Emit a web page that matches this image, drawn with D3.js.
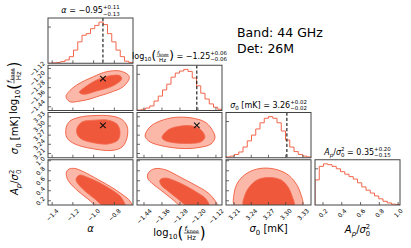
<!DOCTYPE html>
<html>
<head>
<meta charset="utf-8">
<script src="https://cdn.jsdelivr.net/npm/d3@7"></script>
<style>
  body { margin: 0; background: #fff; }
  svg { display: block; font-family: 'DejaVu Sans', sans-serif; }
</style>
</head>
<body>
<svg id="chart" width="411" height="248"></svg>
<script>
// parameter ranges and ticks (alpha, log10 fknee, sigma0, Ap/sigma0^2)
const ranges = [[-1.44, -0.62], [-1.471, -1.093], [3.196, 3.344], [0.115, 1.02]];
const alphaTicks = [-1.4, -1.2, -1.0, -0.8];
const fkneeTicks = [-1.44, -1.36, -1.28, -1.20, -1.12];
const sigmaTicks = [3.21, 3.24, 3.27, 3.30, 3.33];
const apTicks = [0.2, 0.4, 0.6, 0.8, 1.0];
const tickFormats = ['.1f', '.2f', '.2f', '.1f'];

const medians = [-0.95, -1.25, 3.26, 0.35];
const errPlus = [0.11, 0.06, 0.02, 0.20];
const errMinus = [0.13, 0.06, 0.02, 0.15];
const truths = [-0.91, -1.205, 3.302, null];

// 20-bin histograms, normalised to peak
const alphaHist = [0.0, 0.01, 0.02, 0.04, 0.08, 0.16, 0.32, 0.52, 0.68, 0.72, 0.84, 0.92, 1.0, 0.94, 0.72, 0.52, 0.32, 0.16, 0.05, 0.02];
const fkneeHist = [0.01, 0.03, 0.06, 0.11, 0.23, 0.35, 0.50, 0.64, 0.81, 0.91, 0.96, 1.0, 0.95, 0.79, 0.60, 0.42, 0.28, 0.16, 0.08, 0.03];
const sigmaHist = [0.02, 0.04, 0.08, 0.14, 0.26, 0.41, 0.55, 0.70, 0.85, 0.96, 1.0, 0.96, 0.85, 0.65, 0.43, 0.26, 0.15, 0.08, 0.04, 0.02];
const apHist = [0.61, 0.94, 1.0, 0.98, 0.94, 0.88, 0.81, 0.75, 0.69, 0.63, 0.54, 0.44, 0.36, 0.29, 0.22, 0.15, 0.09, 0.05, 0.02, 0.01];

// 2d contour outlines [x, y] in data units (outer ~95%, inner ~68%)
const alphaFkneeOuter = [[-1.266,-1.356],[-1.244,-1.319],[-1.163,-1.258],[-1.003,-1.189],[-0.874,-1.147],[-0.745,-1.141],[-0.665,-1.174],[-0.656,-1.202],[-0.714,-1.272],[-0.842,-1.321],[-0.970,-1.356],[-1.035,-1.375],[-1.131,-1.392],[-1.228,-1.398]];
const alphaFkneeInner = [[-1.138,-1.319],[-1.099,-1.286],[-0.970,-1.216],[-0.842,-1.180],[-0.745,-1.180],[-0.729,-1.208],[-0.810,-1.264],[-0.970,-1.308],[-1.099,-1.336]];
const alphaSigmaOuter = [[-1.266,3.293],[-1.228,3.316],[-1.131,3.329],[-0.987,3.334],[-0.842,3.333],[-0.736,3.323],[-0.678,3.300],[-0.678,3.261],[-0.726,3.231],[-0.823,3.220],[-1.016,3.226],[-1.180,3.241],[-1.257,3.261]];
const alphaSigmaInner = [[-1.160,3.293],[-1.112,3.313],[-0.987,3.319],[-0.861,3.319],[-0.774,3.306],[-0.745,3.280],[-0.765,3.254],[-0.861,3.241],[-1.016,3.246],[-1.122,3.258],[-1.160,3.274]];
const fkneeSigmaOuter = [[-1.435,3.267],[-1.413,3.297],[-1.369,3.316],[-1.302,3.328],[-1.226,3.326],[-1.169,3.313],[-1.142,3.293],[-1.124,3.263],[-1.142,3.241],[-1.191,3.230],[-1.258,3.226],[-1.346,3.233],[-1.413,3.248]];
const fkneeSigmaInner = [[-1.360,3.263],[-1.333,3.287],[-1.289,3.298],[-1.226,3.300],[-1.186,3.287],[-1.169,3.263],[-1.186,3.248],[-1.235,3.243],[-1.315,3.246],[-1.351,3.254]];
const alphaApOuter = [[-1.262,0.775],[-1.237,0.835],[-1.180,0.845],[-1.093,0.775],[-0.958,0.625],[-0.823,0.465],[-0.716,0.315],[-0.649,0.195],[-0.630,0.09],[-0.958,0.09],[-1.054,0.235],[-1.151,0.395],[-1.228,0.555],[-1.257,0.655]];
const alphaApInner = [[-1.160,0.675],[-1.131,0.715],[-1.054,0.665],[-0.938,0.555],[-0.823,0.415],[-0.745,0.295],[-0.707,0.175],[-0.697,0.09],[-0.900,0.09],[-0.987,0.235],[-1.073,0.375],[-1.141,0.515],[-1.170,0.615]];
const fkneeApOuter = [[-1.424,0.715],[-1.413,0.795],[-1.387,0.845],[-1.342,0.815],[-1.280,0.675],[-1.213,0.515],[-1.160,0.375],[-1.129,0.235],[-1.115,0.09],[-1.271,0.09],[-1.315,0.235],[-1.360,0.395],[-1.400,0.535],[-1.422,0.635]];
const fkneeApInner = [[-1.369,0.615],[-1.346,0.655],[-1.306,0.605],[-1.253,0.495],[-1.200,0.355],[-1.164,0.235],[-1.151,0.09],[-1.244,0.09],[-1.289,0.235],[-1.333,0.395],[-1.364,0.515]];
const sigmaApOuter = [[3.212,0.09],[3.210,0.335],[3.217,0.575],[3.233,0.755],[3.255,0.845],[3.280,0.835],[3.302,0.735],[3.316,0.575],[3.325,0.375],[3.328,0.09]];
const sigmaApInner = [[3.227,0.09],[3.229,0.315],[3.238,0.495],[3.252,0.625],[3.273,0.665],[3.292,0.615],[3.304,0.475],[3.311,0.295],[3.314,0.09]];

const tickValues = [alphaTicks, fkneeTicks, sigmaTicks, apTicks];
const hists = [alphaHist, fkneeHist, sigmaHist, apHist];
const contours = {
  '1-0': [alphaFkneeOuter, alphaFkneeInner],
  '2-0': [alphaSigmaOuter, alphaSigmaInner],
  '2-1': [fkneeSigmaOuter, fkneeSigmaInner],
  '3-0': [alphaApOuter, alphaApInner],
  '3-1': [fkneeApOuter, fkneeApInner],
  '3-2': [sigmaApOuter, sigmaApInner]
};

// math-ish labels
const alphaLabel = [{ s: 'α', it: true }];
const fkneeLabel = [{ s: 'log' }, { s: '10', sz: .7, dy: .25 }, { s: '(', sz: 1.5, dy: .18 },
  { frac: [[{ s: 'f', it: true }, { s: 'knee', sz: .7, dy: .25 }], [{ s: 'Hz' }]] },
  { s: ')', sz: 1.5, dy: .18 }];
const sigmaLabel = [{ s: 'σ', it: true }, { s: '0', sz: .7, dy: .25 }, { s: '\u00a0[mK]' }];
const apLabel = [{ s: 'A', it: true }, { s: 'p', it: true, sz: .7, dy: .25 }, { s: '/' }, { s: 'σ', it: true }, { ss: ['2', '0'] }];
const labels = [alphaLabel, fkneeLabel, sigmaLabel, apLabel];

const lineColor = '#f2674c', innerFill = '#f0583c', outerFill = '#fbb8a8', frameColor = '#444';

const svg = d3.select('#chart');
const n = 4, panelW = 85, panelH = 45.25, gapX = 4, gapY = 2, left0 = 48, top0 = 18;
const colLeft = i => left0 + i * (panelW + gapX);
const rowTop = i => top0 + i * (panelH + gapY);

const x = ranges.map((r, i) => d3.scaleLinear().domain(r).range([colLeft(i), colLeft(i) + panelW]));
const y = ranges.map((r, i) => d3.scaleLinear().domain(r).range([rowTop(i) + panelH, rowTop(i)]));

function mathText(g, items, fs) {
  let cx = 0;
  items.forEach(it => {
    if (it.frac) {
      const axisY = -0.3 * fs;
      const num = g.append('g'), den = g.append('g');
      const wn = mathText(num, it.frac[0], fs * 0.7);
      const wd = mathText(den, it.frac[1], fs * 0.7);
      const w = Math.max(wn, wd) + fs * 0.2;
      num.attr('transform', `translate(${cx + (w - wn) / 2},${axisY - fs * 0.2})`);
      den.attr('transform', `translate(${cx + (w - wd) / 2},${axisY + fs * 0.68})`);
      g.append('line').attr('x1', cx + fs * 0.05).attr('x2', cx + w - fs * 0.05)
        .attr('y1', axisY).attr('y2', axisY).attr('stroke', '#000').attr('stroke-width', fs * 0.06);
      cx += w;
    } else if (it.ss) {
      let w = 0;
      it.ss.forEach((s, k) => {
        const t = g.append('text').attr('x', cx).attr('y', (k ? 0.32 : -0.45) * fs)
          .attr('font-size', fs * 0.68).text(s);
        w = Math.max(w, t.node().getComputedTextLength());
      });
      cx += w;
    } else {
      const t = g.append('text').attr('x', cx).attr('y', (it.dy || 0) * fs)
        .attr('font-size', (it.sz || 1) * fs)
        .style('font-style', it.it ? 'italic' : null).text(it.s);
      cx += t.node().getComputedTextLength();
    }
  });
  return cx;
}

const curve = d3.line().curve(d3.curveCatmullRomClosed.alpha(0.5));
const defs = svg.append('defs');

for (let r = 0; r < n; r++) {
  for (let c = 0; c <= r; c++) {
    const L = colLeft(c), T = rowTop(r), B = T + panelH;
    const g = svg.append('g');
    const id = `clip-${r}-${c}`;
    defs.append('clipPath').attr('id', id).append('rect')
      .attr('x', L).attr('y', T).attr('width', panelW).attr('height', panelH);
    const inner = g.append('g').attr('clip-path', `url(#${id})`);

    if (r === c) {
      const vals = hists[c];
      const dom = ranges[c];
      const bw = (dom[1] - dom[0]) / vals.length;
      const hy = d3.scaleLinear().domain([0, 1.1]).range([B, T]);
      const pts = [[x[c](dom[0]), hy(0)]];
      vals.forEach((v, i) => {
        pts.push([x[c](dom[0] + i * bw), hy(v)]);
        pts.push([x[c](dom[0] + (i + 1) * bw), hy(v)]);
      });
      pts.push([x[c](dom[1]), hy(0)]);
      inner.append('path').attr('d', d3.line()(pts))
        .attr('fill', 'none').attr('stroke', lineColor).attr('stroke-width', 1);
      if (truths[c] !== null) {
        inner.append('line').attr('x1', x[c](truths[c])).attr('x2', x[c](truths[c]))
          .attr('y1', T).attr('y2', B).attr('stroke', '#111').attr('stroke-width', 1.1)
          .attr('stroke-dasharray', '3.2,2');
      }
      // single y tick on diagonal
      g.append('line').attr('x1', L).attr('x2', L + 3).attr('y1', hy(0.88)).attr('y2', hy(0.88))
        .attr('stroke', frameColor).attr('stroke-width', 0.8);
    } else {
      const [outer, core] = contours[`${r}-${c}`];
      const toPx = d => [x[c](d[0]), y[r](d[1])];
      inner.append('path').attr('d', curve(outer.map(toPx)))
        .attr('fill', outerFill).attr('stroke', lineColor).attr('stroke-width', 1);
      inner.append('path').attr('d', curve(core.map(toPx)))
        .attr('fill', innerFill).attr('stroke', lineColor).attr('stroke-width', 0.8);
      if (truths[c] !== null && truths[r] !== null) {
        const px = x[c](truths[c]), py = y[r](truths[r]), s = 2.8;
        inner.append('path').attr('d', `M${px - s},${py - s}L${px + s},${py + s}M${px - s},${py + s}L${px + s},${py - s}`)
          .attr('stroke', '#111').attr('stroke-width', 1.1);
      }
      tickValues[r].forEach(v => {
        g.append('line').attr('x1', L).attr('x2', L + 3).attr('y1', y[r](v)).attr('y2', y[r](v))
          .attr('stroke', frameColor).attr('stroke-width', 0.8);
      });
    }
    tickValues[c].forEach(v => {
      g.append('line').attr('x1', x[c](v)).attr('x2', x[c](v)).attr('y1', B).attr('y2', B - 3)
        .attr('stroke', frameColor).attr('stroke-width', 0.8);
    });
    g.append('rect').attr('x', L).attr('y', T).attr('width', panelW).attr('height', panelH)
      .attr('fill', 'none').attr('stroke', frameColor).attr('stroke-width', 1);
  }
}

// rotated tick labels
const tfs = 6;
function rotText(px, py, txt, mode) {
  const t = svg.append('text').attr('font-size', tfs).attr('text-anchor', 'middle')
    .attr('dominant-baseline', 'central').text(txt);
  const ext = (t.node().getComputedTextLength() + tfs * 0.9) / Math.SQRT2;
  const cx = mode === 'x' ? px : px - 2.5 - ext / 2;
  const cy = mode === 'x' ? py + 2.5 + ext / 2 : py;
  t.attr('x', cx).attr('y', cy).attr('transform', `rotate(-45,${cx},${cy})`);
}
const bottom = rowTop(n - 1) + panelH;
for (let c = 0; c < n; c++) {
  const f = d3.format(tickFormats[c]);
  tickValues[c].forEach(v => rotText(x[c](v), bottom, f(v), 'x'));
}
for (let r = 1; r < n; r++) {
  const f = d3.format(tickFormats[r]);
  tickValues[r].forEach(v => rotText(left0, y[r](v), f(v), 'y'));
}

// axis labels
const xLabelBase = [232, 236, 232, 233];
for (let c = 0; c < n; c++) {
  const g = svg.append('g');
  const w = mathText(g, labels[c], 10);
  g.attr('transform', `translate(${colLeft(c) + panelW / 2 - w / 2},${xLabelBase[c]})`);
}
const yLabelBase = [0, 17, 18, 18];
for (let r = 1; r < n; r++) {
  const outerG = svg.append('g')
    .attr('transform', `translate(${yLabelBase[r]},${rowTop(r) + panelH / 2}) rotate(-90)`);
  const g = outerG.append('g');
  const w = mathText(g, labels[r], 10);
  g.attr('transform', `translate(${-w / 2},0)`);
}

// titles above diagonal panels
const titleOffset = [5, 6.5, 5, 5];
const fmt2 = d3.format('.2f');
for (let c = 0; c < n; c++) {
  const g = svg.append('g');
  const items = labels[c].concat([
    { s: `\u00a0=\u00a0${fmt2(medians[c])}` },
    { ss: [`+${fmt2(errPlus[c])}`, `−${fmt2(errMinus[c])}`] }
  ]);
  const w = mathText(g, items, 8);
  g.attr('transform', `translate(${colLeft(c) + panelW / 2 - w / 2},${rowTop(c) - titleOffset[c]})`);
}

// annotation
const info = ['Band: 44 GHz', 'Det: 26M'];
svg.selectAll('.info').data(info).join('text').attr('class', 'info')
  .attr('x', 237).attr('y', (d, i) => 37 + i * 16).attr('font-size', 12.5).text(d => d);
</script>
</body>
</html>
